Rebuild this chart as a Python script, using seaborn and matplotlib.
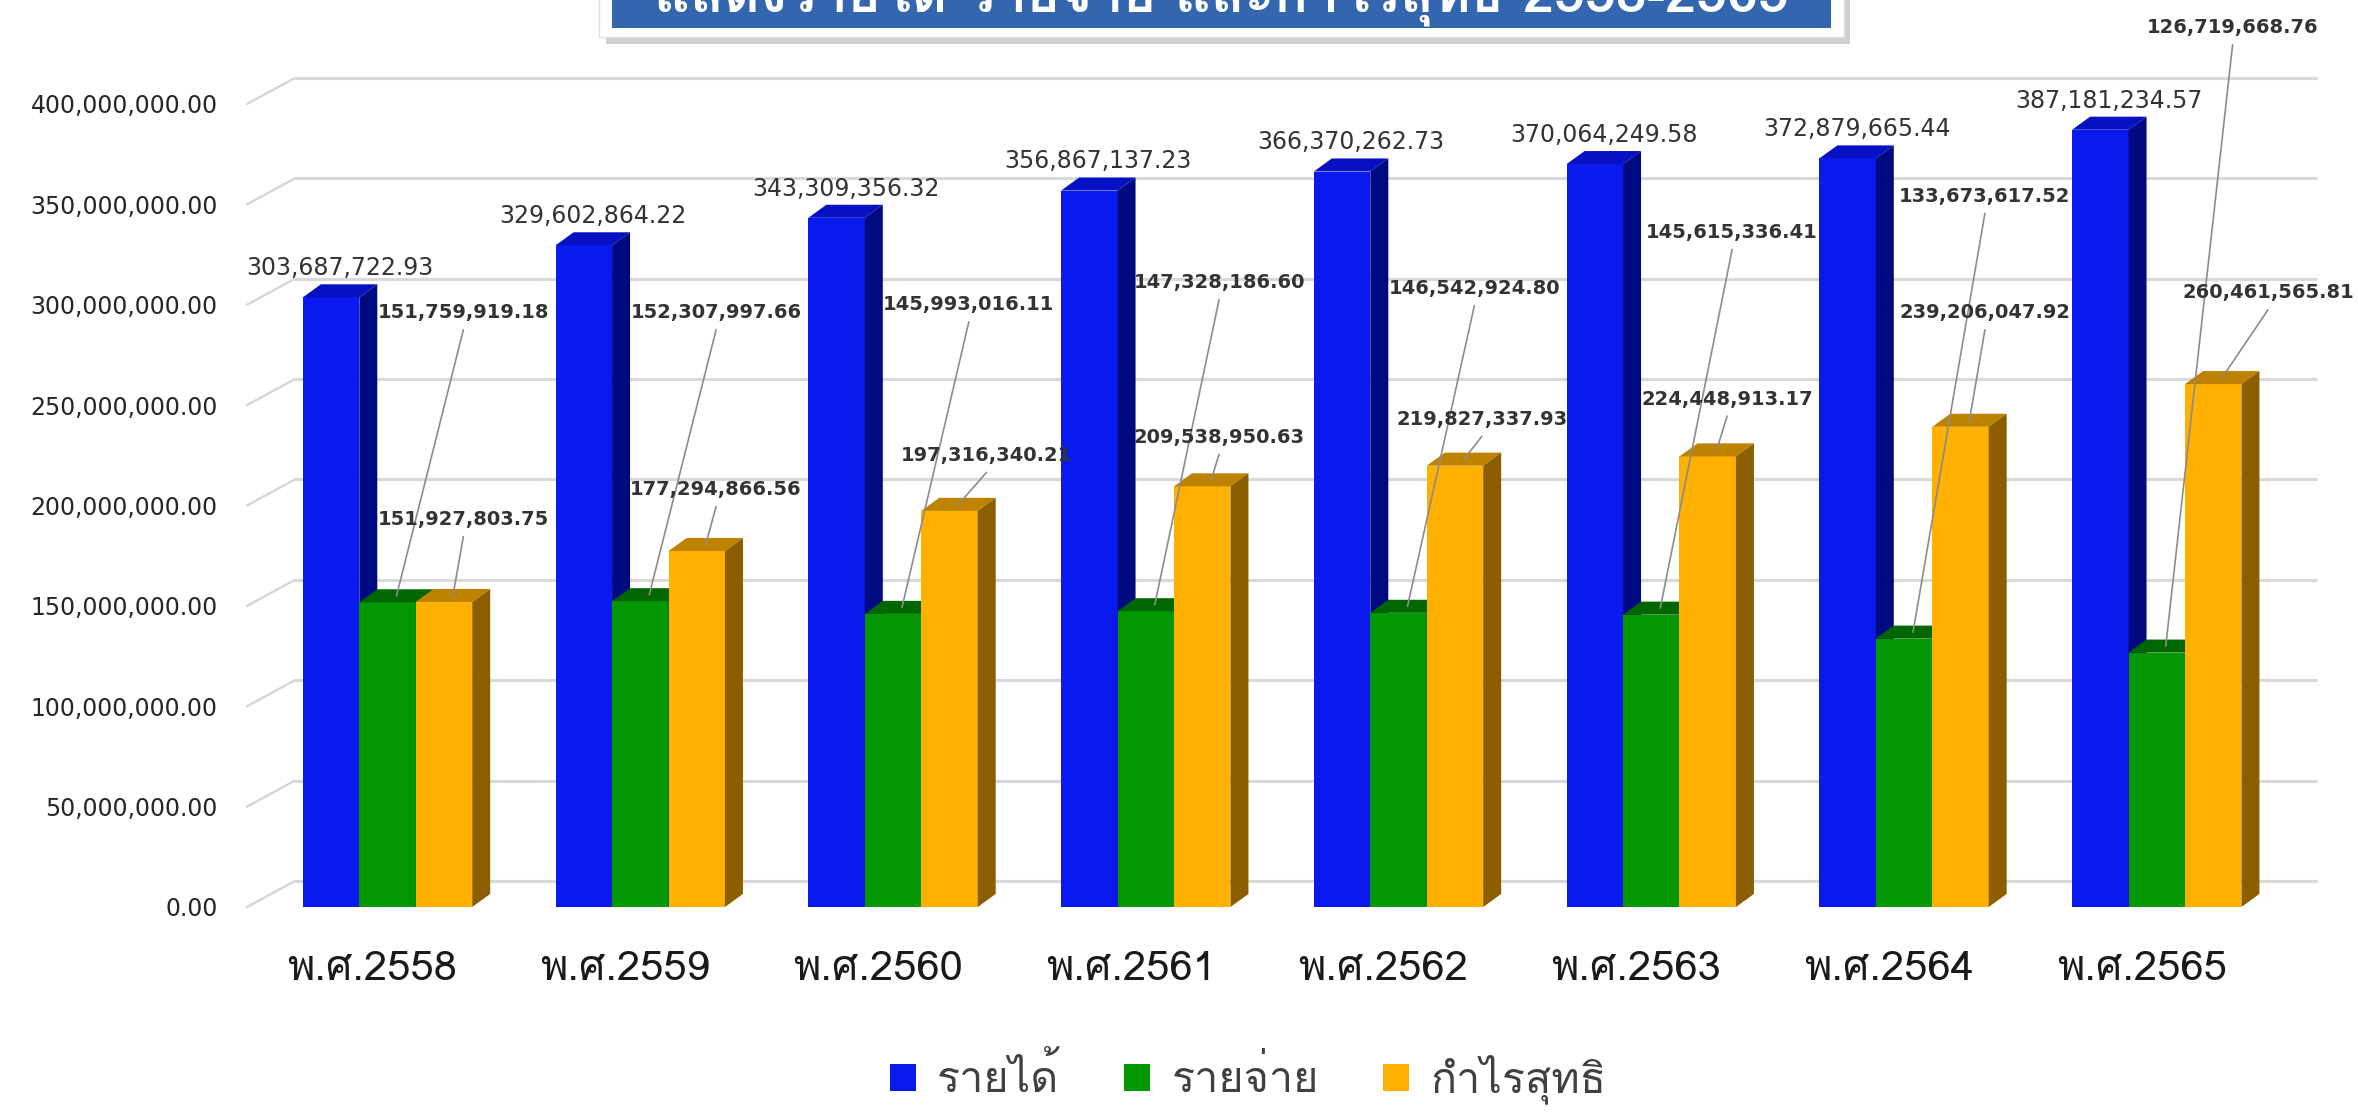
import pandas as pd
import seaborn as sns
import matplotlib
matplotlib.use("Agg")
import matplotlib.pyplot as plt
from matplotlib.patches import Polygon, Rectangle
from matplotlib.transforms import ScaledTranslation
from matplotlib import font_manager
from fontTools.ttLib import TTFont


# data
years = ["พ.ศ.2558", "พ.ศ.2559", "พ.ศ.2560", "พ.ศ.2561",
         "พ.ศ.2562", "พ.ศ.2563", "พ.ศ.2564", "พ.ศ.2565"]
series = ["รายได้", "รายจ่าย", "กำไรสุทธิ"]
income = [303687722.93, 329602864.22, 343309356.32, 356867137.23,
          366370262.73, 370064249.58, 372879665.44, 387181234.57]
expense = [151759919.18, 152307997.66, 145993016.11, 147328186.60,
           146542924.80, 145615336.41, 133673617.52, 126719668.76]
profit = [151927803.75, 177294866.56, 197316340.21, 209538950.63,
          219827337.93, 224448913.17, 239206047.92, 260461565.81]
yticks = [0, 50e6, 100e6, 150e6, 200e6, 250e6, 300e6, 350e6, 400e6]
title = "แสดงรายได้ รายจ่าย และกำไรสุทธิ 2558-2565"

# where excel put the callout labels (millions, and x shift from group centre)
expense_lab_y = [296, 296, 300, 311, 308, 336, 354, 438]
expense_lab_dx = [0.30, 0.30, 0.30, 0.29, 0.30, 0.32, 0.32, 0.30]
profit_lab_y = [193, 208, 225, 234, 243, 253, 296, 306]
profit_lab_dx = [0.30, 0.30, 0.37, 0.29, 0.33, 0.30, 0.32, 0.44]

front = ["#0A1AEE", "#039803", "#FFB000"]
tops = ["#0511C2", "#006600", "#BF8200"]
sides = ["#000A80", "#004A00", "#8C5E00"]

# find something that can draw thai
thai_font = None
for f in font_manager.fontManager.ttflist:
    try:
        cmap = TTFont(f.fname, fontNumber=0, lazy=True).getBestCmap()
        if 0x0E01 in cmap and 0x0E33 in cmap:
            thai_font = f.name
            break
    except Exception:
        pass
thai_fam = [thai_font, "DejaVu Sans"] if thai_font else ["DejaVu Sans"]

df = pd.DataFrame({
    "year": years * 3,
    "series": [series[0]] * 8 + [series[1]] * 8 + [series[2]] * 8,
    "value": income + expense + profit,
})

sns.set_style("white")
plt.rcParams["font.family"] = ["DejaVu Sans"]

W, H = 2358, 1112
fig = plt.figure(figsize=(W / 100, H / 100), dpi=100)
ax = fig.add_axes([247 / W, 1 - 907 / H, (2316 - 247) / W, 907 / H])

sns.barplot(data=df, x="year", y="value", hue="series", palette=front,
            width=0.67, saturation=1, linewidth=0, ax=ax)

ax.set_xlim(-0.556, 7.63)
ax.set_ylim(0, 451.8e6)
for s in ax.spines.values():
    s.set_visible(False)
ax.set_xlabel("")
ax.set_ylabel("")

# 3d look
ddx, ddy = 0.0712, 6.5e6      # bar depth
bdx, bdy = 0.19, 13e6         # back wall offset

x0 = ax.get_xlim()[0]
x1 = ax.get_xlim()[1]
for v in yticks:
    ax.plot([x0, x0 + bdx], [v, v + bdy], color="#D4D4D4", lw=1.6, zorder=1, clip_on=False)
    ax.plot([x0 + bdx, x1], [v + bdy, v + bdy], color="#D9D9D9", lw=2.2, zorder=1, clip_on=False)

for h, cont in enumerate(ax.containers):
    for p in cont.patches:
        p.set_zorder(2 + h)
        bx, bw, bh = p.get_x(), p.get_width(), p.get_height()
        top = Polygon([(bx, bh), (bx + bw, bh), (bx + bw + ddx, bh + ddy), (bx + ddx, bh + ddy)],
                      closed=True, fc=tops[h], lw=0, zorder=2 + h)
        side = Polygon([(bx + bw, 0), (bx + bw, bh), (bx + bw + ddx, bh + ddy), (bx + bw + ddx, ddy)],
                       closed=True, fc=sides[h], lw=0, zorder=2 + h)
        ax.add_patch(top)
        ax.add_patch(side)

# value labels
blue_bars = ax.containers[0].patches
green_bars = ax.containers[1].patches
orange_bars = ax.containers[2].patches
for i in range(len(years)):
    p = blue_bars[i]
    ax.annotate(f"{income[i]:,.2f}", xy=(p.get_x() + p.get_width() / 2 + ddx / 2, income[i] + ddy),
                xytext=(0, 3), textcoords="offset points", ha="center", va="bottom",
                fontsize=17, color="#333333", zorder=10)
    for bars, vals, ly, ldx in ((green_bars, expense, expense_lab_y, expense_lab_dx),
                                (orange_bars, profit, profit_lab_y, profit_lab_dx)):
        p = bars[i]
        tx = i + ldx[i]
        ty = ly[i] * 1e6
        ax.text(tx, ty, f"{vals[i]:,.2f}", ha="center", va="center", fontsize=14,
                fontweight="bold", color="#333333", zorder=10)
        ax.plot([tx, p.get_x() + p.get_width() / 2 + ddx / 2], [ty - 8.5e6, vals[i] + ddy / 2],
                color="#8C8C8C", lw=1.2, zorder=9)

ax.set_yticks(yticks)
ax.set_yticklabels([f"{v:,.2f}" for v in yticks], fontsize=17, color="#262626")
ax.tick_params(axis="y", length=0, pad=21)
ax.tick_params(axis="x", length=0, pad=32)
shift = ScaledTranslation(-0.15, 0, fig.dpi_scale_trans)
for t in ax.get_xticklabels():
    t.set_fontfamily(thai_fam)
    t.set_fontsize(30)
    t.set_color("#1A1A1A")
    t.set_transform(t.get_transform() + shift)

sns.move_legend(ax, "center", bbox_to_anchor=(0.484, -0.19), ncol=3, frameon=False,
                title=None, prop={"family": thai_fam, "size": 31},
                handlelength=0.6, handleheight=0.6, handletextpad=0.5, columnspacing=1.5)
for t in ax.get_legend().get_texts():
    t.set_color("#404040")

# title box (cut off at the top like the source)
tr = fig.transFigure
fig.patches.append(Rectangle((606 / W, 1 - 44 / H), 1244 / W, 60 / H, transform=tr,
                             fc="#B0B0B0", ec="none", alpha=0.6, zorder=1))
fig.patches.append(Rectangle((599 / W, 1 - 37 / H), 1245 / W, 60 / H, transform=tr,
                             fc="white", ec="#E0E0E0", lw=1, zorder=2))
fig.patches.append(Rectangle((612 / W, 1 - 28 / H), 1219 / W, 60 / H, transform=tr,
                             fc="#3366AF", ec="none", zorder=3))
fig.text(1221 / W, 1 - 12 / H, title, ha="center", va="baseline", color="white",
         fontsize=40, fontweight="bold", family=thai_fam, zorder=4)

fig.savefig("out.png", dpi=100, facecolor="white")
